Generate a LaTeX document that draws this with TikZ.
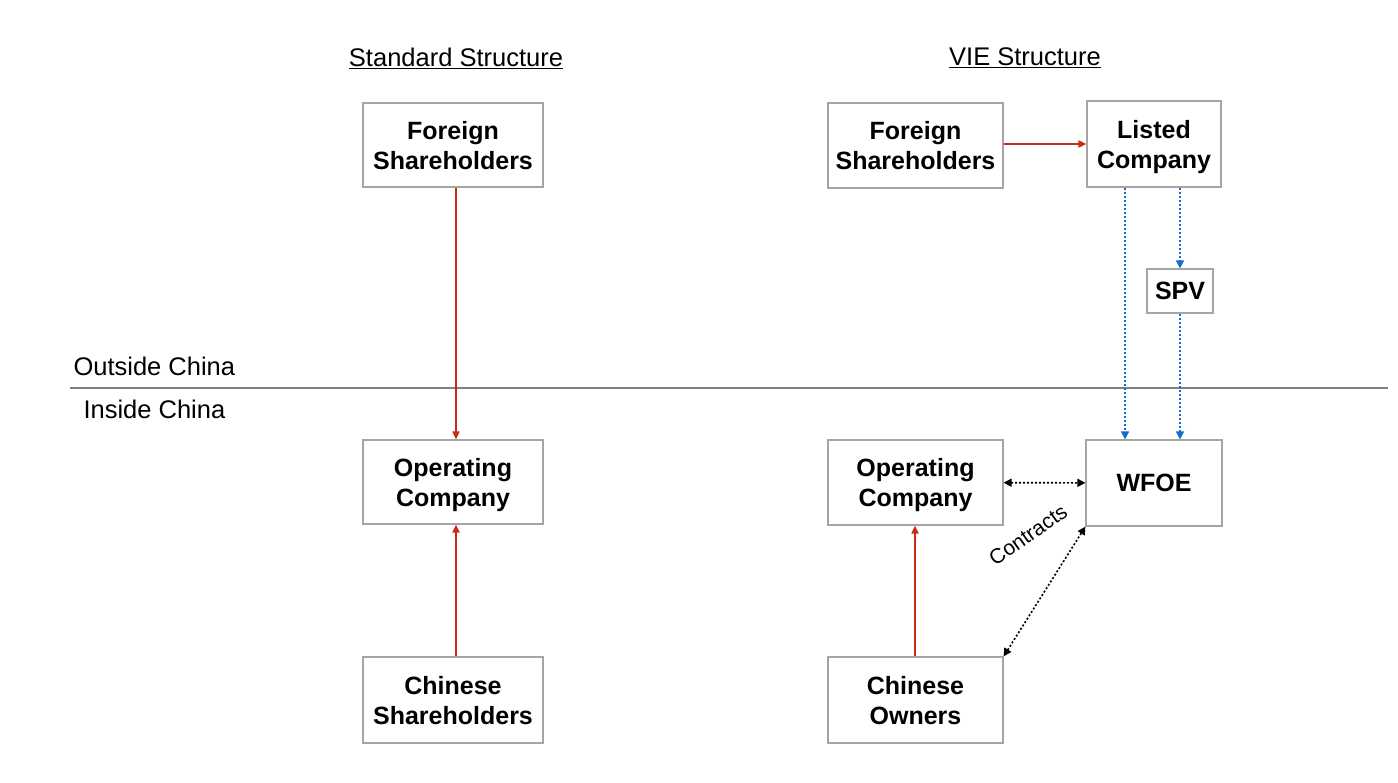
\documentclass[tikz,border=0pt]{standalone}
\usepackage{fontspec}
\setmainfont{Liberation Sans}
\usetikzlibrary{arrows.meta,positioning,calc}
\definecolor{boxgray}{RGB}{165,165,165}
\definecolor{ownred}{RGB}{204,42,20}
\definecolor{ctrlblue}{RGB}{20,108,204}
\tikzstyle{entity}=[rectangle, draw=boxgray, line width=1.2pt, fill=white,
                    align=center, inner sep=0pt, text depth=-2pt,
                    font=\fontsize{25}{30}\selectfont\bfseries]
\tikzstyle{own}=[draw=ownred, line width=1.8pt, -{Triangle[length=8pt,width=7pt]}]
\tikzstyle{ctrl}=[draw=ctrlblue, line width=1.6pt, dash pattern=on 2pt off 2pt,
                  -{Triangle[length=8pt,width=8pt]}]
\tikzstyle{contract}=[draw=black, line width=1.6pt, dash pattern=on 2pt off 2pt,
                      {Triangle[length=8pt,width=8pt]}-{Triangle[length=8pt,width=8pt]}]
\tikzstyle{caption}=[font=\fontsize{25.5}{28}\selectfont]

\begin{document}
\begin{tikzpicture}[x=1pt,y=-1pt]
      \useasboundingbox (0,0) rectangle (1398,783);

      % headings and border line
      \node [caption] (stdtitle) at (456,58) {\underline{Standard Structure}};
      \node [caption] (vietitle) at (1025,58) {\underline{VIE Structure}};
      \coordinate (borderL) at (70,388);
      \coordinate (borderR) at (1388,388);
      \draw [draw=gray, line width=1.2pt] (borderL) -- (borderR);
      \node [caption, anchor=west] (outside) at (70,366) {Outside China};
      \node [caption, anchor=west] (inside) at (80,409) {Inside China};

      % standard structure
      \node [entity, minimum width=180pt, minimum height=84pt] (s_foreign) at (453,145) {Foreign\\Shareholders};
      \node [entity, minimum width=180pt, minimum height=84pt] (s_oper) at (453,482) {Operating\\Company};
      \node [entity, minimum width=180pt, minimum height=86pt] (s_chinese) at (453,700) {Chinese\\Shareholders};

      % VIE structure
      \node [entity, minimum width=175pt, minimum height=85pt] (v_foreign) at (915.5,145.5) {Foreign\\Shareholders};
      \node [entity, minimum width=134pt, minimum height=86pt] (listed) at (1154,144) {Listed\\Company};
      \node [entity, minimum width=66pt, minimum height=44pt] (spv) at (1180,291) {SPV};
      \node [entity, minimum width=136pt, minimum height=86pt] (wfoe) at (1154,483) {WFOE};
      \node [entity, minimum width=175pt, minimum height=85pt] (v_oper) at (915.5,482.5) {Operating\\Company};
      \node [entity, minimum width=175pt, minimum height=86pt] (owners) at (915.5,700) {Chinese\\Owners};

      % ownership
      \path ([xshift=3pt]s_foreign.south) edge[own] ([xshift=3pt]s_oper.north);
      \path ([xshift=3pt]s_chinese.north) edge[own] ([xshift=3pt]s_oper.south);
      \path (listed.west -| v_foreign.east) edge[own] (listed.west);
      \path ([xshift=-0.5pt]owners.north) edge[own] ([xshift=-0.5pt]v_oper.south);

      % control through the offshore chain
      \path ([xshift=-29pt]listed.south) edge[ctrl] ([xshift=-29pt]wfoe.north);
      \path (listed.south -| spv) edge[ctrl] (spv);
      \path (spv) edge[ctrl] (wfoe.north -| spv);

      % contracts
      \path (v_oper) edge[contract] (wfoe);
      \path (owners.north east) edge[contract] (wfoe.south west);
      \node [font=\fontsize{21}{24}\selectfont, rotate=35] (contracts) at (1028,535) {Contracts};
\end{tikzpicture}
\end{document}
